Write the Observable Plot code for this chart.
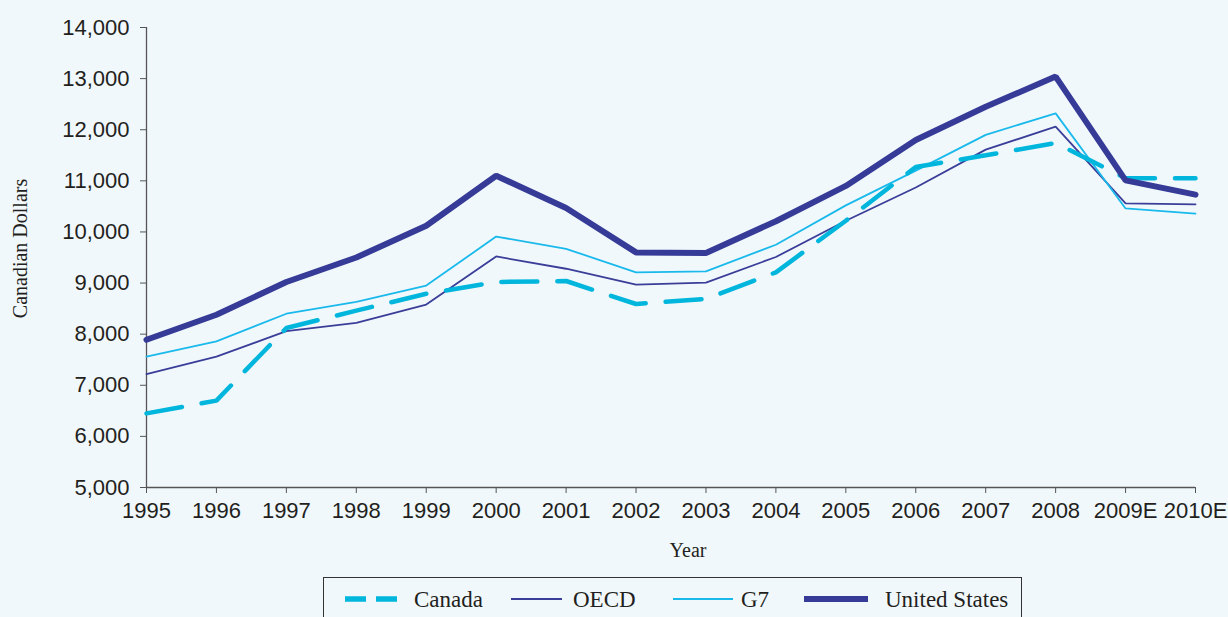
<!DOCTYPE html>
<html>
<head>
<meta charset="utf-8">
<script src="https://cdn.jsdelivr.net/npm/d3@7"></script>
<script src="https://cdn.jsdelivr.net/npm/@observablehq/plot@0.6"></script>
<style>
  html, body { margin: 0; padding: 0; background: #f1f8fc; overflow: hidden; }
  #chart svg { display: block; }
  #legend { position: relative; margin-left: 323px; width: 697px; height: 60px; border: 1px solid #333; box-sizing: content-box; }
  #legend .sw { position: absolute; top: 14px; }
  #legend .lb { position: absolute; top: 8px; font-family: "Liberation Serif", "Times New Roman", serif; font-size: 23px; color: #231f20; line-height: 28px; }
</style>
</head>
<body>
<div id="chart"></div>
<div id="legend"></div>
<script>
const years = ["1995","1996","1997","1998","1999","2000","2001","2002","2003","2004","2005","2006","2007","2008","2009E","2010E"];
const canada = [6450,6700,8120,8460,8790,9020,9040,8590,8690,9210,10220,11270,11500,11740,11050,11050];
const oecd   = [7220,7560,8060,8220,8580,9520,9280,8970,9010,9510,10220,10870,11610,12060,10560,10540];
const g7     = [7560,7860,8400,8630,8950,9910,9670,9210,9230,9750,10520,11200,11900,12320,10460,10360];
const us     = [7890,8380,9020,9500,10120,11100,10470,9600,9590,10210,10900,11800,12450,13040,11010,10730];
const yTicks = [5000,6000,7000,8000,9000,10000,11000,12000,13000,14000];
const seriesNames = ["Canada","OECD","G7","United States"];

const colors = {"Canada":"#00b6dc","OECD":"#3a3e98","G7":"#19b9ec","United States":"#363b97"};
const widths = {"Canada":4.5,"OECD":1.8,"G7":1.8,"United States":6};
const seriesVals = {"Canada":canada,"OECD":oecd,"G7":g7,"United States":us};

const rows = name => years.map((y,i) => ({year:y, value:seriesVals[name][i], series:name}));

const serif = "Liberation Serif, Times New Roman, serif";

const chart = Plot.plot({
  width: 1228,
  height: 577,
  marginLeft: 146,
  marginRight: 33,
  marginTop: 27,
  marginBottom: 90,
  style: {background: "transparent", fontFamily: "Liberation Sans, Arial, sans-serif", color: "#231f20"},
  x: {type: "point", domain: years, padding: 0, round: false},
  y: {domain: [5000, 14000]},
  marks: [
    Plot.axisY({ticks: yTicks, tickFormat: d3.format(","), tickSize: 6, tickPadding: 11, fontSize: 22, label: null, stroke: "#555", fill: "#231f20"}),
    Plot.axisX({tickSize: 6, tickPadding: 9, fontSize: 22, label: null, stroke: "#555", fill: "#231f20"}),
    Plot.ruleX([years[0]], {stroke: "#555", strokeWidth: 1.3}),
    Plot.ruleY([5000], {stroke: "#555", strokeWidth: 1.3}),
    Plot.line(rows("OECD"), {x: "year", y: "value", stroke: colors["OECD"], strokeWidth: widths["OECD"], strokeLinejoin: "miter"}),
    Plot.line(rows("G7"), {x: "year", y: "value", stroke: colors["G7"], strokeWidth: widths["G7"], strokeLinejoin: "miter"}),
    Plot.line(rows("Canada"), {x: "year", y: "value", stroke: colors["Canada"], strokeWidth: widths["Canada"], strokeDasharray: "36,20", strokeLinejoin: "miter"}),
    Plot.line(rows("United States"), {x: "year", y: "value", stroke: colors["United States"], strokeWidth: widths["United States"], strokeLinejoin: "miter"}),
    Plot.text(["Canadian Dollars"], {frameAnchor: "left", rotate: -90, dx: -126, dy: -9, fontSize: 20, fontFamily: serif, fill: "#231f20", textAnchor: "middle", lineAnchor: "middle"}),
    Plot.text(["Year"], {frameAnchor: "bottom", dx: 17, dy: 63, fontSize: 20, fontFamily: serif, fill: "#231f20", textAnchor: "middle", lineAnchor: "middle"})
  ]
});
document.getElementById("chart").appendChild(chart);

// Legend (HTML below the plot)
const legend = document.getElementById("legend");
const layout = {
  "Canada":        {sw: 21,  w: 53, text: 90},
  "OECD":          {sw: 187, w: 51, text: 249},
  "G7":            {sw: 349, w: 60, text: 417},
  "United States": {sw: 480, w: 64, text: 561}
};
seriesNames.forEach(name => {
  const L = layout[name];
  const ns = "http://www.w3.org/2000/svg";
  const svg = document.createElementNS(ns, "svg");
  svg.setAttribute("width", L.w);
  svg.setAttribute("height", 14);
  svg.setAttribute("class", "sw");
  svg.style.left = L.sw + "px";
  const line = document.createElementNS(ns, "line");
  line.setAttribute("x1", 0); line.setAttribute("x2", L.w);
  line.setAttribute("y1", 7); line.setAttribute("y2", 7);
  line.setAttribute("stroke", colors[name]);
  line.setAttribute("stroke-width", name === "Canada" ? 5.5 : (name === "United States" ? 6 : 2));
  if (name === "Canada") line.setAttribute("stroke-dasharray", "21,10");
  svg.appendChild(line);
  legend.appendChild(svg);
  const lb = document.createElement("div");
  lb.className = "lb";
  lb.style.left = L.text + "px";
  lb.textContent = name;
  legend.appendChild(lb);
});
</script>
</body>
</html>
